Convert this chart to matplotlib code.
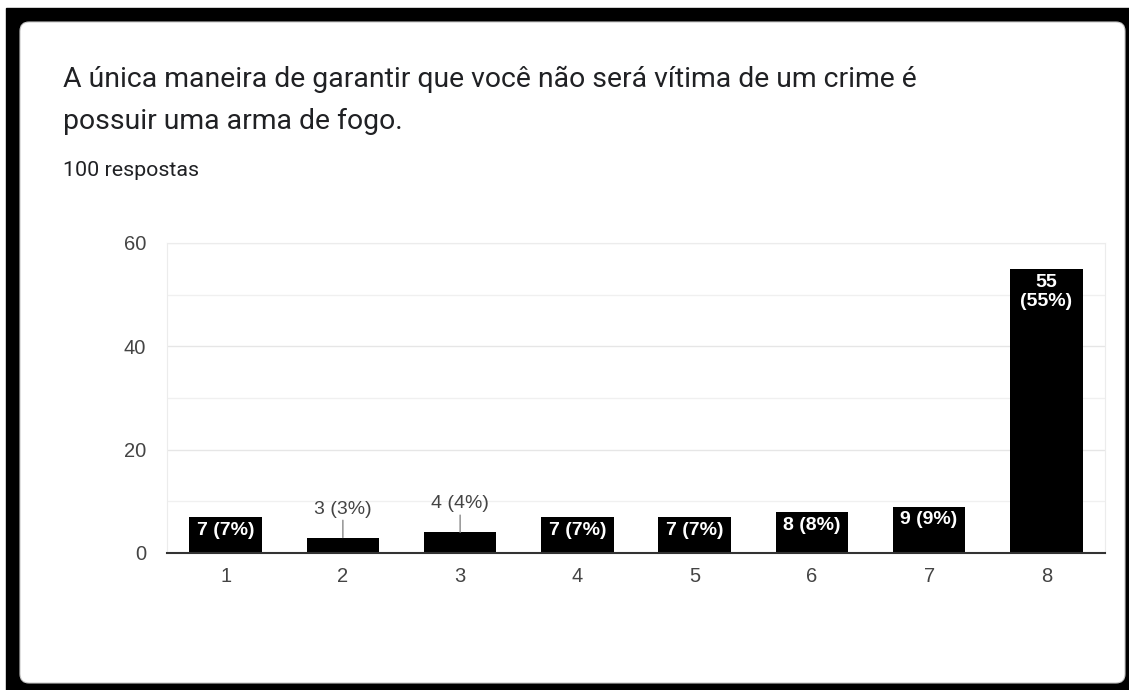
import matplotlib.pyplot as plt
from matplotlib.patches import FancyBboxPatch, Rectangle
from matplotlib.transforms import IdentityTransform

categories = ["1", "2", "3", "4", "5", "6", "7", "8"]
counts = [7, 3, 4, 7, 7, 8, 9, 55]
total = 100
title_lines = ["A única maneira de garantir que você não será vítima de um crime é",
               "possuir uma arma de fogo."]
subtitle = "100 respostas"

W, H = 1129, 690
fig = plt.figure(figsize=(W / 100, H / 100), dpi=100, facecolor="white")
px = IdentityTransform()

# black frame with the white rounded card on top
fig.patches.append(Rectangle((6, 0), W - 6, H - 8, transform=px, color="black", zorder=0))
fig.patches.append(FancyBboxPatch((20, H - 683), 1105, 661, boxstyle="round,pad=0,rounding_size=9",
                                  transform=px, facecolor="white", edgecolor="#c8c8c8", lw=0.8, zorder=1))

for line, base in zip(title_lines, [87, 129]):
    fig.text(63 / W, 1 - base / H, line, fontsize=20.4, family="Roboto", color="#202124",
             va="baseline", ha="left")
fig.text(63 / W, 1 - 176 / H, subtitle, fontsize=15.4, family="Roboto", color="#202124",
         va="baseline", ha="left")

ax = fig.add_axes([167 / W, 1 - 553 / H, (1105 - 167) / W, (553 - 243) / H])
ax.set_zorder(2)
ax.patch.set_alpha(0)
x = list(range(1, len(categories) + 1))
bars = ax.bar(x, counts, width=0.62, color="black", zorder=3)

ax.set_xlim(0.5, len(categories) + 0.5)
ax.set_ylim(0, 60)
ax.set_yticks([0, 20, 40, 60])
ax.set_yticks(range(0, 61, 10), minor=True)
ax.set_xticks(x, categories)
ax.grid(axis="y", which="minor", color="#f0f0f0", lw=1, zorder=0)
ax.grid(axis="y", which="major", color="#e6e6e6", lw=1, zorder=0)
ax.tick_params(axis="both", which="both", length=0, labelsize=14.5, labelcolor="#444444")
ax.tick_params(axis="y", pad=15)
ax.tick_params(axis="x", pad=10)
for lbl in ax.get_xticklabels() + ax.get_yticklabels():
    lbl.set_family("Liberation Sans")
for side in ["left", "right", "top"]:
    ax.spines[side].set_color("#ececec")
ax.spines["bottom"].set_color("#333333")
ax.spines["bottom"].set_linewidth(1.5)
ax.spines["bottom"].set_zorder(4)

# value labels: inside the bar when it is tall enough, otherwise above with a leader line
for b, v in zip(bars, counts):
    cx = b.get_x() + b.get_width() / 2
    pct = f"{v / total:.0%}"
    if v >= 20:
        txt = f"{v}\n({pct})"
    else:
        txt = f"{v} ({pct})"
    if v >= 6:
        ax.annotate(txt, (cx, v), xytext=(0, -5), textcoords="offset pixels", ha="center", va="top",
                    color="white", fontsize=14, fontweight="bold", family="Liberation Sans",
                    zorder=5, linespacing=1.15)
    else:
        ax.annotate(txt, (cx, v), xytext=(0, 20), textcoords="offset pixels", ha="center", va="bottom",
                    color="#444444", fontsize=14, family="Liberation Sans", zorder=5,
                    arrowprops=dict(arrowstyle="-", color="#888888", lw=1, shrinkA=0, shrinkB=0))

fig.savefig("out.png", dpi=100, facecolor="white")
